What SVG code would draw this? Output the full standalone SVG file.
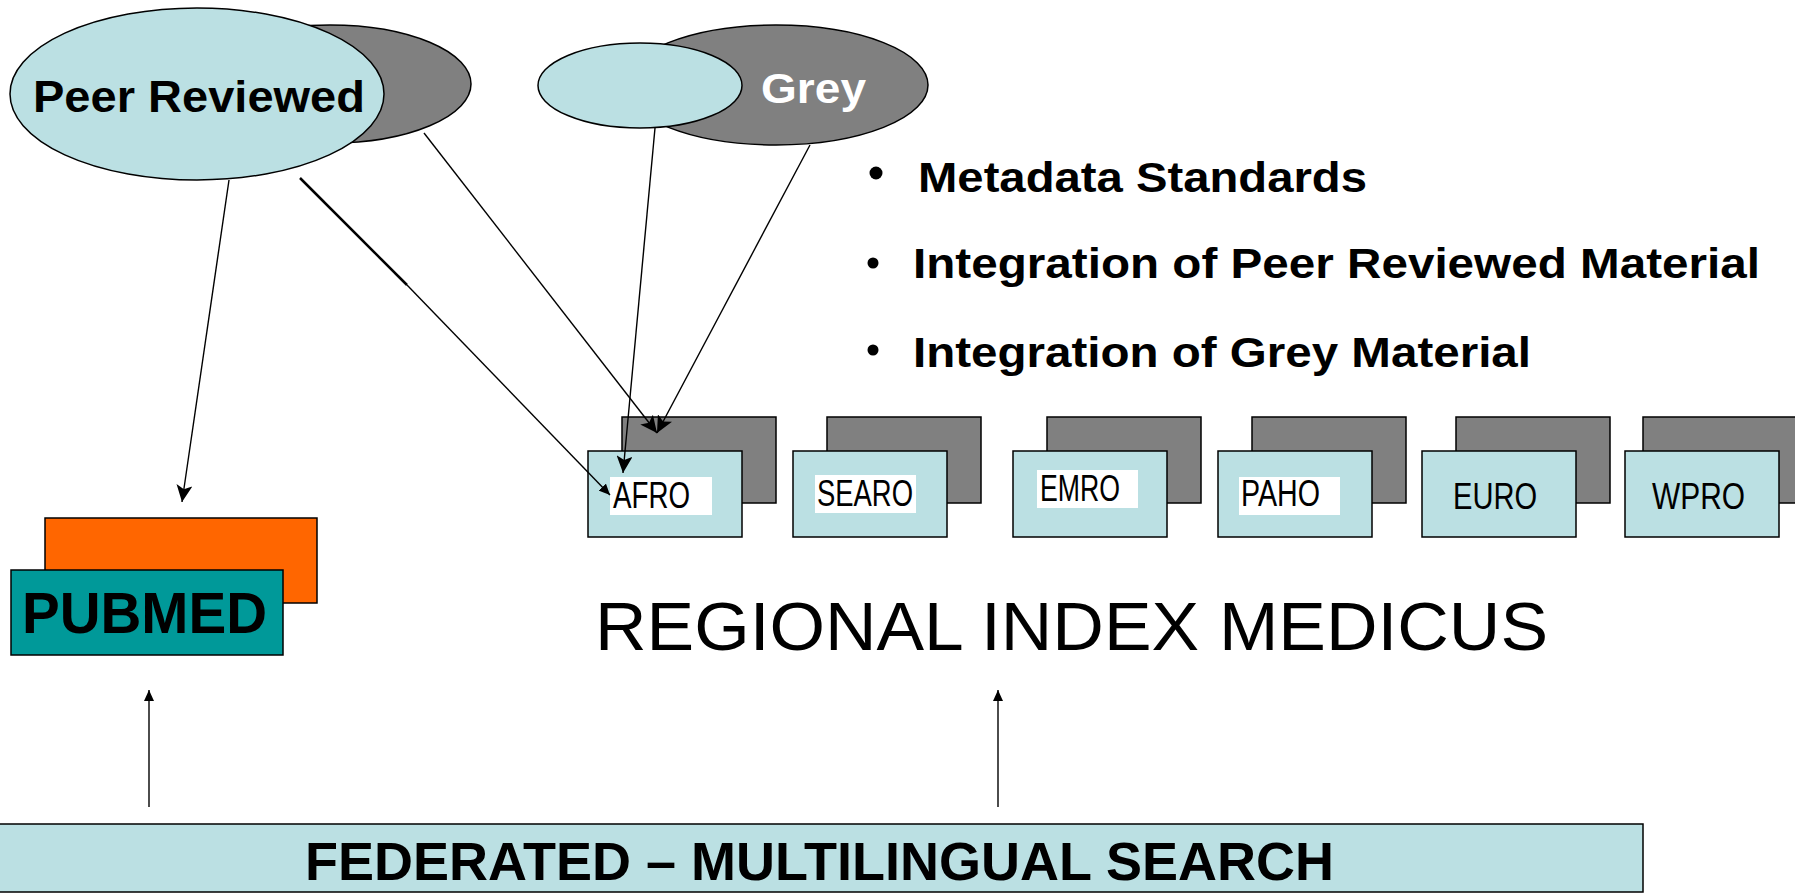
<svg xmlns="http://www.w3.org/2000/svg" width="1795" height="893" viewBox="0 0 1795 893">
<style>
.lb{fill:#BBE0E3;stroke:#000;stroke-width:1.5}
.dk{fill:#808080;stroke:#000;stroke-width:1.5}
.wb{fill:#fff}
.ln{stroke:#000;stroke-width:1.4;fill:none}
.bold{font-family:"Liberation Sans",Arial,sans-serif;font-weight:bold}
.reg{font-family:"Liberation Sans",Arial,sans-serif}
.rl{font-family:"Liberation Sans",Arial,sans-serif;font-size:37px;fill:#000}
</style>
<defs>
<marker id="ah" markerUnits="userSpaceOnUse" markerWidth="18" markerHeight="16" refX="17" refY="8" orient="auto">
<path d="M0,0 L17,8 L0,16 L4,8 z" fill="#000"/>
</marker>
<marker id="as" markerUnits="userSpaceOnUse" markerWidth="12" markerHeight="10" refX="11" refY="5" orient="auto">
<path d="M0,0 L11,5 L0,10 z" fill="#000"/>
</marker>
</defs>
<rect width="1795" height="893" fill="#fff"/>

<g id="peer-reviewed">
<ellipse class="dk" cx="330" cy="84" rx="141" ry="59"/>
<ellipse class="lb" cx="197" cy="94" rx="187" ry="86"/>
<text class="bold" x="33" y="112" font-size="45" textLength="332" lengthAdjust="spacingAndGlyphs">Peer Reviewed</text>
</g>

<g id="grey">
<ellipse class="dk" cx="776" cy="85" rx="152" ry="60"/>
<ellipse class="lb" cx="640" cy="85.5" rx="102" ry="42.5"/>
<text class="bold" x="761" y="103" font-size="43" fill="#fff" textLength="105" lengthAdjust="spacingAndGlyphs">Grey</text>
</g>

<g id="bullets">
<circle cx="876" cy="173" r="6.5"/>
<text class="bold" x="918" y="192" font-size="43" textLength="449" lengthAdjust="spacingAndGlyphs">Metadata Standards</text>
<circle cx="873" cy="263" r="5.5"/>
<text class="bold" x="913" y="278" font-size="43" textLength="847" lengthAdjust="spacingAndGlyphs">Integration of Peer Reviewed Material</text>
<circle cx="873" cy="350" r="5.5"/>
<text class="bold" x="913" y="367" font-size="43" textLength="618" lengthAdjust="spacingAndGlyphs">Integration of Grey Material</text>
</g>

<g id="afro">
<rect class="dk" x="622" y="417" width="154" height="86"/>
<rect class="lb" x="588" y="451" width="154" height="86"/>
<rect class="wb" x="610" y="477" width="102" height="38"/>
<text class="rl" x="613" y="508" textLength="77" lengthAdjust="spacingAndGlyphs">AFRO</text>
</g>
<g id="searo">
<rect class="dk" x="827" y="417" width="154" height="86"/>
<rect class="lb" x="793" y="451" width="154" height="86"/>
<rect class="wb" x="815" y="475" width="101" height="38"/>
<text class="rl" x="817" y="506" textLength="96" lengthAdjust="spacingAndGlyphs">SEARO</text>
</g>
<g id="emro">
<rect class="dk" x="1047" y="417" width="154" height="86"/>
<rect class="lb" x="1013" y="451" width="154" height="86"/>
<rect class="wb" x="1037" y="470" width="101" height="38"/>
<text class="rl" x="1040" y="501" textLength="80" lengthAdjust="spacingAndGlyphs">EMRO</text>
</g>
<g id="paho">
<rect class="dk" x="1252" y="417" width="154" height="86"/>
<rect class="lb" x="1218" y="451" width="154" height="86"/>
<rect class="wb" x="1239" y="477" width="101" height="38"/>
<text class="rl" x="1241" y="506" textLength="79" lengthAdjust="spacingAndGlyphs">PAHO</text>
</g>
<g id="euro">
<rect class="dk" x="1456" y="417" width="154" height="86"/>
<rect class="lb" x="1422" y="451" width="154" height="86"/>
<text class="rl" x="1453" y="509" textLength="84" lengthAdjust="spacingAndGlyphs">EURO</text>
</g>
<g id="wpro">
<rect class="dk" x="1643" y="417" width="160" height="86"/>
<rect class="lb" x="1625" y="451" width="154" height="86"/>
<text class="rl" x="1652" y="509" textLength="93" lengthAdjust="spacingAndGlyphs">WPRO</text>
</g>

<g id="pubmed">
<rect x="45" y="518" width="272" height="85" fill="#FF6600" stroke="#000" stroke-width="1.5"/>
<rect x="11" y="570" width="272" height="85" fill="#009999" stroke="#000" stroke-width="1.5"/>
<text class="bold" x="22" y="633" font-size="57" textLength="245" lengthAdjust="spacingAndGlyphs">PUBMED</text>
</g>

<g id="regional-index-medicus">
<text class="reg" x="595" y="650" font-size="69" textLength="953" lengthAdjust="spacingAndGlyphs">REGIONAL INDEX MEDICUS</text>
</g>

<g id="federated-search">
<rect x="-3" y="824" width="1646" height="68" fill="#BBE0E3" stroke="#000" stroke-width="1.5"/>
<text class="bold" x="305" y="880" font-size="53" textLength="1029" lengthAdjust="spacingAndGlyphs">FEDERATED – MULTILINGUAL SEARCH</text>
</g>

<g id="connectors">
<line class="ln" x1="229" y1="180" x2="182" y2="502" marker-end="url(#ah)"/>
<line x1="300" y1="178" x2="407" y2="285" stroke="#000" stroke-width="2.5"/>
<line class="ln" x1="407" y1="285" x2="610" y2="495" marker-end="url(#as)"/>
<line class="ln" x1="424" y1="133" x2="657" y2="433" marker-end="url(#ah)"/>
<line class="ln" x1="655" y1="128" x2="623" y2="473" marker-end="url(#ah)"/>
<line class="ln" x1="810" y1="145" x2="657" y2="433" marker-end="url(#ah)"/>
<line class="ln" x1="149" y1="807" x2="149" y2="690" marker-end="url(#as)"/>
<line class="ln" x1="998" y1="807" x2="998" y2="690" marker-end="url(#as)"/>
</g>
</svg>
